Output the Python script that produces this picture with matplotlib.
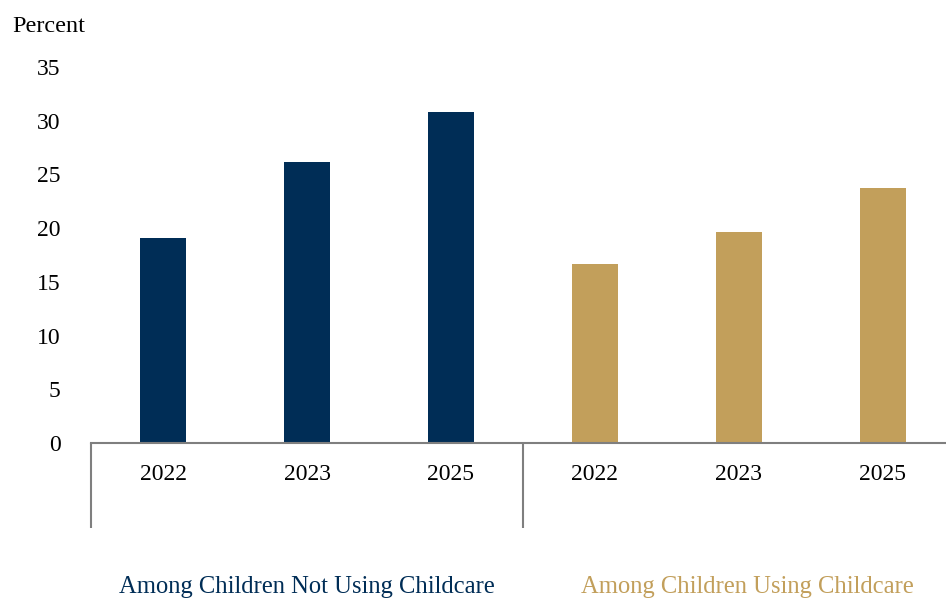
import matplotlib.pyplot as plt
import matplotlib.transforms as mtransforms

# share of children, by childcare use and survey year
years = ['2022', '2023', '2025']
not_using = [19.1, 26.2, 30.8]
using = [16.7, 19.6, 23.7]
groups = ['Among Children Not Using Childcare', 'Among Children Using Childcare']

NAVY = '#002D56'
GOLD = '#C29F5B'
GRAY = '#7F7F7F'

plt.rcParams['font.family'] = ['Liberation Serif', 'DejaVu Serif']

fig = plt.figure(figsize=(9.46, 5.99), dpi=100)
ax = fig.add_axes([0.0962, 0.2604, 0.9133, 0.6277])

x_left = list(range(len(years)))
x_right = [i + len(years) for i in x_left]
ax.bar(x_left, not_using, width=0.32, color=NAVY)
ax.bar(x_right, using, width=0.32, color=GOLD)

ax.set_xlim(-0.5, 5.5)
ax.set_ylim(0, 35)
ax.set_yticks(range(0, 36, 5))
ax.set_xticks(x_left + x_right)
ax.set_xticklabels(years + years)
ax.tick_params(axis='both', length=0, labelsize=17, labelcolor='black')
ax.tick_params(axis='y', pad=22)
ax.tick_params(axis='x', pad=15)

for side in ['left', 'right', 'top']:
    ax.spines[side].set_visible(False)
ax.spines['bottom'].set_color(GRAY)
ax.spines['bottom'].set_linewidth(1.5)

# vertical separators between the two groups below the axis
trans = mtransforms.blended_transform_factory(ax.transData, ax.transAxes)
for xs in [-0.5, 2.5]:
    ax.plot([xs, xs], [0, -0.226], transform=trans, color=GRAY, lw=1.5,
            clip_on=False, solid_capstyle='butt')

ax.text(1.0, -0.383, groups[0], transform=trans, ha='center', va='center',
        fontsize=17.7, color=NAVY)
ax.text(4.06, -0.383, groups[1], transform=trans, ha='center', va='center',
        fontsize=17.7, color=GOLD)

fig.text(12 / 946, 1 - 27 / 599, 'Percent', ha='left', va='center', fontsize=17.5)

fig.savefig('out.png', dpi=100)
